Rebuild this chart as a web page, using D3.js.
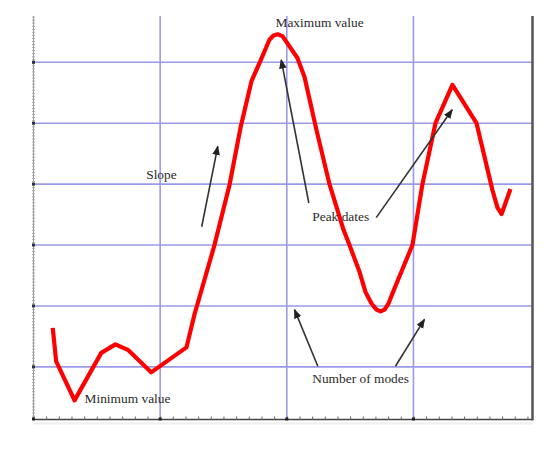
<!DOCTYPE html>
<html>
<head>
<meta charset="utf-8">
<script src="https://cdn.jsdelivr.net/npm/d3@7"></script>
<style>
  html, body { margin: 0; padding: 0; background: #fff; }
  svg { display: block; }
</style>
</head>
<body>
<svg id="chart" width="547" height="458"></svg>
<script>
// ---- data (data units) ----
const curveX = [1.52, 1.79, 3.24, 5.35, 6.47, 7.45, 9.29, 12.08, 12.71, 14.29, 15.48, 16.34, 17.21, 17.85, 18.63, 18.95, 19.27, 19.66, 20.84, 21.40, 22.34, 23.37, 24.48, 24.95, 25.74, 26.21, 26.69, 27.08, 27.40, 27.72, 28.03, 28.43, 29.92, 30.71, 31.74, 33.08, 34.98, 36.24, 36.64, 36.96, 37.66];
const curveY = [1.64, 1.09, 0.45, 1.23, 1.37, 1.28, 0.91, 1.32, 1.86, 3.00, 3.99, 4.92, 5.69, 5.99, 6.37, 6.44, 6.46, 6.43, 6.07, 5.76, 4.89, 4.00, 3.25, 3.00, 2.56, 2.23, 2.04, 1.94, 1.91, 1.94, 2.04, 2.25, 3.00, 4.00, 5.00, 5.63, 5.00, 3.90, 3.61, 3.51, 3.92];

const xGrid = [10, 20, 30];
const yGrid = [1, 2, 3, 4, 5, 6];

const labelText = ["Maximum value", "Slope", "Peak dates", "Minimum value", "Number of modes"];
const labelX = [19.11, 8.90, 22.01, 4.03, 22.01];
const labelY = [6.58, 4.09, 3.40, 0.40, 0.73];

const arrowFromX = [13.28, 21.74, 27.06, 22.45, 28.58];
const arrowFromY = [3.30, 3.69, 3.45, 1.01, 1.01];
const arrowToX = [14.55, 19.56, 33.06, 20.61, 30.87];
const arrowToY = [4.62, 6.04, 5.22, 1.94, 1.78];

// ---- layout ----
const svg = d3.select("#chart");
const pLeft = 33.5, pRight = 532.5, pTop = 16, pBottom = 419.5;
const x = d3.scaleLinear().domain([0, 39.4]).range([pLeft, pRight]);
const y = d3.scaleLinear().domain([0.136, 6.76]).range([pBottom, pTop]);

const gridColor = "#9a9ae8";

// grid
svg.append("g").selectAll("line").data(xGrid).join("line")
  .attr("x1", d => x(d)).attr("x2", d => x(d))
  .attr("y1", pTop).attr("y2", pBottom)
  .attr("stroke", gridColor).attr("stroke-width", 1.6);
svg.append("g").selectAll("line").data(yGrid).join("line")
  .attr("x1", pLeft).attr("x2", pRight)
  .attr("y1", d => y(d)).attr("y2", d => y(d))
  .attr("stroke", gridColor).attr("stroke-width", 1.6);

// left axis: dense minor ticks
const leftAxis = d3.axisRight(y)
  .tickValues(d3.range(0.15, 6.76, 0.05))
  .tickSize(3).tickFormat("");
const gl = svg.append("g").attr("transform", `translate(${pLeft - 1.5},0)`).call(leftAxis);
gl.select(".domain").attr("stroke", "#999").attr("stroke-width", 1).attr("d", `M1.5,${pTop}V${pBottom}`);
gl.selectAll(".tick line").attr("stroke", "#aaa").attr("stroke-width", 1);
// left major ticks
svg.append("g").selectAll("rect").data(yGrid).join("rect")
  .attr("x", pLeft - 1.5).attr("y", d => y(d) - 1.5)
  .attr("width", 3).attr("height", 3).attr("fill", "#333");

// bottom axis: minor ticks every unit
const bottomAxis = d3.axisTop(x)
  .tickValues(d3.range(0, 39.01, 1))
  .tickSize(3).tickFormat("");
const gb = svg.append("g").attr("transform", `translate(0,${pBottom})`).call(bottomAxis);
gb.select(".domain").attr("stroke", "#444").attr("stroke-width", 1.5).attr("d", `M${pLeft},0H${pRight}`);
gb.selectAll(".tick line").attr("stroke", "#666").attr("stroke-width", 1);
svg.append("g").selectAll("rect").data([0].concat(xGrid)).join("rect")
  .attr("x", d => x(d) - 1.5).attr("y", pBottom - 2)
  .attr("width", 3).attr("height", 3).attr("fill", "#222");
// faint shadow under bottom axis
svg.append("line").attr("x1", pLeft).attr("x2", pRight)
  .attr("y1", pBottom + 4).attr("y2", pBottom + 4)
  .attr("stroke", "#eee").attr("stroke-width", 2);

// right border
svg.append("line").attr("x1", pRight).attr("x2", pRight)
  .attr("y1", pTop).attr("y2", pBottom + 1)
  .attr("stroke", "#555").attr("stroke-width", 2.5);

// curve
const pts = curveX.map((d, i) => [d, curveY[i]]);
svg.append("path").datum(pts)
  .attr("d", d3.line().x(d => x(d[0])).y(d => y(d[1])).curve(d3.curveLinear))
  .attr("fill", "none").attr("stroke", "#ff0000")
  .attr("stroke-width", 4.2).attr("stroke-linejoin", "round").attr("stroke-linecap", "butt");

// arrows
svg.append("defs").append("marker")
  .attr("id", "ah").attr("viewBox", "0 0 10 10")
  .attr("refX", 9).attr("refY", 5)
  .attr("markerWidth", 6).attr("markerHeight", 6)
  .attr("markerUnits", "strokeWidth")
  .attr("orient", "auto")
  .append("path").attr("d", "M0,1 L10,5 L0,9 Z").attr("fill", "#222");

svg.append("g").selectAll("line").data(arrowFromX.map((d, i) => i)).join("line")
  .attr("x1", i => x(arrowFromX[i])).attr("y1", i => y(arrowFromY[i]))
  .attr("x2", i => x(arrowToX[i])).attr("y2", i => y(arrowToY[i]))
  .attr("stroke", "#333").attr("stroke-width", 1.6)
  .attr("marker-end", "url(#ah)");

// labels
svg.append("g").selectAll("text").data(labelText).join("text")
  .attr("x", (d, i) => x(labelX[i])).attr("y", (d, i) => y(labelY[i]))
  .attr("font-family", "'Liberation Serif', 'Times New Roman', serif")
  .attr("font-size", 13.4).attr("fill", "#2a2a2a")
  .text(d => d);
</script>
</body>
</html>
